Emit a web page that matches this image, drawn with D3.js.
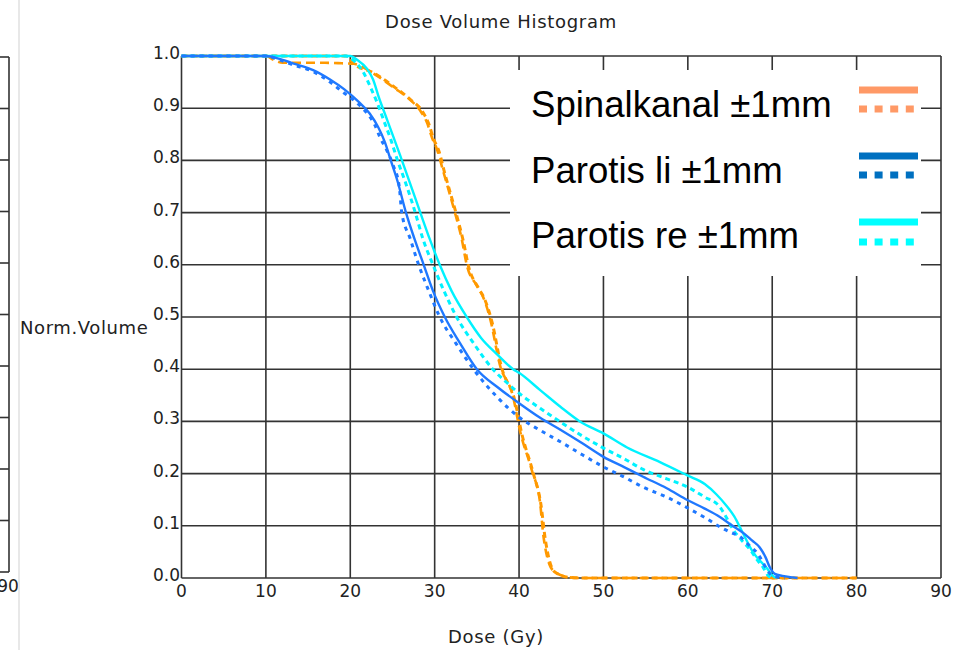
<!DOCTYPE html>
<html>
<head>
<meta charset="utf-8">
<script src="https://cdn.jsdelivr.net/npm/d3@7"></script>
<style>
  html, body { margin: 0; padding: 0; background: #fff; }
  svg { display: block; }
  .sm { font-family: "DejaVu Sans", sans-serif; fill: #222; }
</style>
</head>
<body>
<svg id="chart" width="967" height="650"></svg>
<script>
// ---------- data (dose in Gy, normalized volume) ----------
const xTicks = [0, 10, 20, 30, 40, 50, 60, 70, 80, 90];
const yTicks = [0.0, 0.1, 0.2, 0.3, 0.4, 0.5, 0.6, 0.7, 0.8, 0.9, 1.0];

const spinalSolid = [[0,1],[10,1],[11,0.992],[12,0.987],[17,0.987],[19,0.986],[20.4,0.985],[22.7,0.967],[25.1,0.94],[27.1,0.916],[28.3,0.895],[29.1,0.872],[29.7,0.843],[30.3,0.82],[31,0.78],[32.4,0.70],[33.2,0.65],[33.8,0.60],[35,0.56],[35.7,0.54],[36.6,0.495],[37.7,0.41],[39.3,0.347],[40.1,0.283],[41.5,0.207],[42.5,0.143],[42.9,0.079],[44,0.015],[45.7,0.002],[47,0],[80,0]];
const spinalDot = [[0,1],[19.5,1],[20.4,0.985],[22.7,0.968],[25.1,0.942],[27.1,0.917],[28.5,0.895],[29.3,0.87],[29.9,0.84],[30.5,0.818],[31.2,0.775],[32.6,0.695],[33.4,0.645],[34,0.598],[35.2,0.555],[35.9,0.535],[36.8,0.49],[37.9,0.405],[39.5,0.34],[40.3,0.278],[41.7,0.2],[42.6,0.14],[43.1,0.075],[44.2,0.012],[46,0.001],[48,0],[80,0]];

const parLiSolid = [[0,1],[10,1],[11.5,0.995],[13.2,0.986],[15.6,0.973],[17.6,0.955],[19.3,0.936],[21,0.912],[22.3,0.89],[23.3,0.864],[24.1,0.835],[24.8,0.80],[25.6,0.76],[26.6,0.70],[27.6,0.65],[28.7,0.60],[29.8,0.55],[31.2,0.50],[33,0.45],[35,0.40],[37.5,0.365],[40,0.335],[42.5,0.307],[44.9,0.284],[47.5,0.258],[50,0.232],[52.5,0.212],[54.7,0.194],[57.5,0.172],[60,0.149],[62,0.133],[63.8,0.117],[65.3,0.10],[66.6,0.086],[67.6,0.072],[68.5,0.059],[69.2,0.04],[69.7,0.021],[70.3,0.008],[71.2,0.004],[72.5,0.001],[73,0]];
const parLiDot = [[0,1],[10,1],[11.5,0.993],[13.2,0.983],[15.6,0.97],[17.6,0.95],[19.1,0.931],[20.8,0.91],[22,0.89],[22.9,0.868],[23.5,0.845],[24.3,0.82],[25.1,0.79],[25.8,0.75],[26.1,0.70],[27.1,0.65],[28.1,0.60],[29.3,0.55],[30.6,0.50],[32.5,0.45],[34.6,0.40],[37.5,0.345],[40,0.308],[42.5,0.283],[44.9,0.261],[47.5,0.236],[50,0.213],[52.5,0.193],[54.7,0.174],[57.5,0.155],[60,0.134],[62,0.116],[63.8,0.098],[65,0.088],[66.2,0.079],[67.3,0.062],[68.2,0.048],[68.9,0.03],[69.4,0.015],[70,0.005],[70.6,0.002],[71.5,0]];

const parReSolid = [[0,1],[20,1],[20.8,0.993],[22,0.975],[22.7,0.955],[23.4,0.92],[24.2,0.885],[25,0.85],[25.9,0.81],[27,0.76],[28.3,0.70],[29.4,0.65],[30.6,0.60],[32,0.55],[33.8,0.50],[35.5,0.46],[37.3,0.43],[39.3,0.40],[40,0.393],[42.5,0.36],[44.9,0.328],[47.2,0.30],[50,0.277],[52.8,0.25],[56.7,0.222],[60,0.196],[62,0.18],[63.4,0.16],[64.6,0.138],[65.5,0.118],[66.4,0.09],[67.7,0.05],[69.4,0.018],[70,0.005],[70.5,0]];
const parReDot = [[0,1],[19.5,1],[20.5,0.99],[21.5,0.97],[22.4,0.94],[23.2,0.91],[24,0.875],[24.8,0.84],[25.6,0.80],[26.6,0.755],[27.7,0.70],[28.6,0.65],[29.8,0.60],[31.1,0.55],[32.6,0.50],[34.6,0.45],[36.9,0.40],[38.5,0.375],[40,0.354],[42.5,0.325],[44.9,0.299],[47.5,0.272],[50,0.249],[52.5,0.228],[54.7,0.208],[57.5,0.19],[60,0.174],[62,0.155],[63.8,0.136],[64.6,0.115],[65.4,0.092],[66.4,0.072],[67.4,0.054],[68.2,0.035],[68.9,0.021],[69.5,0.005],[70,0]];

const legendLabels = ["Spinalkanal \u00b11mm", "Parotis li \u00b11mm", "Parotis re \u00b11mm"];
const legendColors = ["#FF9966", "#0070C0", "#00FFFF"];
const curveColors = ["#FF9900", "#1F78FF", "#00F2FF"];

// ---------- layout ----------
const svg = d3.select("#chart");
const M = { left: 181.5, right: 941, top: 56, bottom: 578 };
const x = d3.scaleLinear().domain([0, 90]).range([M.left, M.right]);
const y = d3.scaleLinear().domain([0, 1]).range([M.bottom, M.top]);
const gridColor = "#333";

// left partial neighbouring chart
const yl = d3.scaleLinear().domain([0, 1]).range([572, 57]);
const lp = svg.append("g");
lp.append("line").attr("x1", 9).attr("x2", 9).attr("y1", yl(1)).attr("y2", yl(0))
  .attr("stroke", gridColor).attr("stroke-width", 1.6);
lp.selectAll("line.h").data(yTicks).join("line").attr("class", "h")
  .attr("x1", 0).attr("x2", 9).attr("y1", d => yl(d)).attr("y2", d => yl(d))
  .attr("stroke", gridColor).attr("stroke-width", 1.6);
lp.append("text").attr("class", "sm").attr("x", 8).attr("y", 592)
  .attr("text-anchor", "middle").attr("font-size", 17).text("90");
svg.append("line").attr("x1", 19).attr("x2", 19).attr("y1", 0).attr("y2", 650)
  .attr("stroke", "#e8e8e8").attr("stroke-width", 2);

// grid
const g = svg.append("g");
g.selectAll("line.v").data(xTicks).join("line").attr("class", "v")
  .attr("x1", d => x(d)).attr("x2", d => x(d)).attr("y1", y(1)).attr("y2", y(0))
  .attr("stroke", gridColor).attr("stroke-width", 1.6);
g.selectAll("line.h").data(yTicks).join("line").attr("class", "h")
  .attr("x1", x(0)).attr("x2", x(90)).attr("y1", d => y(d)).attr("y2", d => y(d))
  .attr("stroke", gridColor).attr("stroke-width", 1.6);

// tick labels
g.selectAll("text.xt").data(xTicks).join("text").attr("class", "sm xt")
  .attr("x", d => x(d)).attr("y", 597).attr("text-anchor", "middle")
  .attr("font-size", 17).text(d => d);
g.selectAll("text.yt").data(yTicks).join("text").attr("class", "sm yt")
  .attr("x", 180).attr("y", d => y(d) + 3).attr("text-anchor", "end")
  .attr("font-size", 17).text(d => d.toFixed(1));

// titles
svg.append("text").attr("class", "sm").attr("x", 501).attr("y", 28)
  .attr("text-anchor", "middle").attr("font-size", 18).attr("letter-spacing", 0.7)
  .text("Dose Volume Histogram");
svg.append("text").attr("class", "sm").attr("x", 496).attr("y", 643)
  .attr("text-anchor", "middle").attr("font-size", 18).attr("letter-spacing", 0.7)
  .text("Dose (Gy)");
svg.append("text").attr("class", "sm").attr("x", 20).attr("y", 334)
  .attr("font-size", 18).attr("letter-spacing", 0.6).text("Norm.Volume");

// curves
svg.append("clipPath").attr("id", "clip").append("rect")
  .attr("x", M.left - 2).attr("y", M.top - 3).attr("width", M.right - M.left + 4).attr("height", M.bottom - M.top + 5);
const line = d3.line().x(d => x(d[0])).y(d => y(d[1])).curve(d3.curveMonotoneX);
const curves = [
  { data: spinalSolid, color: curveColors[0], dash: "9,5", w: 2.6 },
  { data: spinalDot,   color: curveColors[0], dash: "6,4", w: 3 },
  { data: parReSolid,  color: curveColors[2], dash: null,  w: 2.4 },
  { data: parReDot,    color: curveColors[2], dash: "5,4", w: 3 },
  { data: parLiSolid,  color: curveColors[1], dash: null,  w: 2.4 },
  { data: parLiDot,    color: curveColors[1], dash: "4,5", w: 3 }
];
const cg = svg.append("g").attr("clip-path", "url(#clip)");
cg.selectAll("path").data(curves).join("path")
  .attr("d", d => line(d.data)).attr("fill", "none")
  .attr("stroke", d => d.color).attr("stroke-width", d => d.w)
  .attr("stroke-dasharray", d => d.dash)
  .attr("stroke-linejoin", "round");

// legend
const lg = svg.append("g");
lg.append("rect").attr("x", 510).attr("y", 70).attr("width", 411).attr("height", 206).attr("fill", "#fff");
const rowBase = [117, 183, 248];
const rowSolid = [90, 156, 222];
const rowDot = [109, 175, 242];
legendLabels.forEach((lab, i) => {
  lg.append("text").attr("x", 531).attr("y", rowBase[i])
    .attr("font-family", "'Liberation Sans', Arial, sans-serif").attr("font-size", 36.6)
    .attr("fill", "#000").text(lab);
  lg.append("line").attr("x1", 859).attr("x2", 918).attr("y1", rowSolid[i]).attr("y2", rowSolid[i])
    .attr("stroke", legendColors[i]).attr("stroke-width", 7);
  lg.append("line").attr("x1", 859).attr("x2", 914).attr("y1", rowDot[i]).attr("y2", rowDot[i])
    .attr("stroke", legendColors[i]).attr("stroke-width", 7).attr("stroke-dasharray", "8,7.6");
});
</script>
</body>
</html>
